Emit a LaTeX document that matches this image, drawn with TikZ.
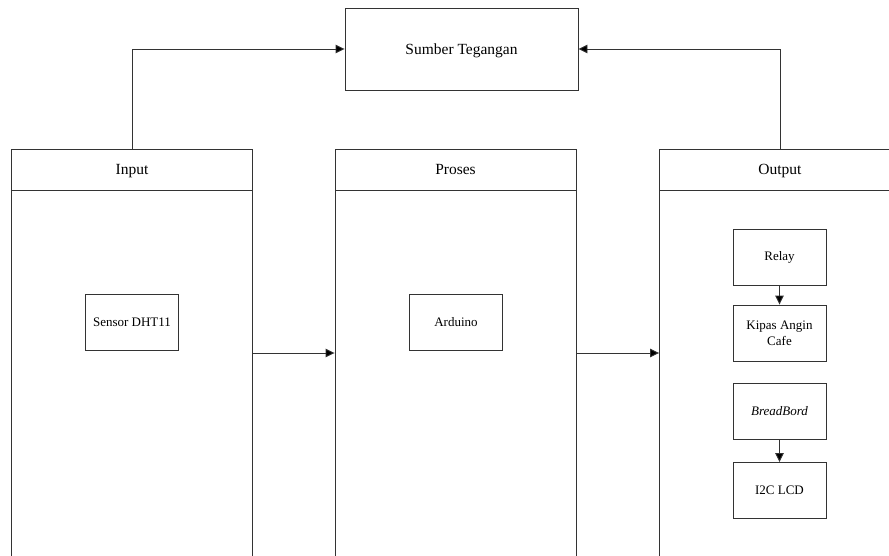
\documentclass[tikz,border=0pt]{standalone}
\usepackage{fontspec}
\setmainfont{Liberation Serif}
\usetikzlibrary{arrows.meta}
\begin{document}
\begin{tikzpicture}[x=1pt,y=-1pt,
  ln/.style={draw=black!80, line width=0.9pt},
  box/.style={ln, minimum width=93pt, minimum height=56pt, inner sep=0pt, align=center, font=\fontsize{13}{16}\selectfont},
  head/.style={ln, minimum width=241pt, minimum height=41pt, inner sep=0pt, text depth=0pt, font=\fontsize{15.5}{18}\selectfont},
  colbody/.style={ln, minimum width=241pt, minimum height=430pt, inner sep=0pt},
  arr/.style={ln, -{Triangle[width=8.5pt,length=9pt,fill=black]}}]
\useasboundingbox (0,0) rectangle (889,556);
\clip (0,0) rectangle (889,556);
\node[ln, minimum width=233pt, minimum height=82pt, inner sep=0pt, text depth=0pt, font=\fontsize{15.5}{18}\selectfont] (sumber) at (461.5,49) {Sumber Tegangan};
\node[head] (inH) at (132,169.5) {Input};
\node[head] (prH) at (455.5,169.5) {Proses};
\node[head] (outH) at (780,169.5) {Output};
\node[colbody] (inB) at (132,405) {};
\node[colbody] (prB) at (455.5,405) {};
\node[colbody] (outB) at (780,405) {};
\node[box] (sensor) at (132,322) {Sensor DHT11};
\node[box] (arduino) at (456,322) {Arduino};
\node[box] (relay) at (779.5,257) {Relay};
\node[box] (kipas) at (779.5,333) {Kipas Angin\\Cafe};
\node[box] (bread) at (779.5,411.5) {\textit{BreadBord}};
\node[box] (lcd) at (779.5,490.5) {I2C LCD};
\coordinate (mid) at (0,353);
\draw[arr] (inH.north) |- (sumber.west);
\draw[arr] (outH.north) |- (sumber.east);
\draw[arr] (inB.east |- mid) -- (prB.west |- mid);
\draw[arr] (prB.east |- mid) -- (outB.west |- mid);
\draw[arr] (relay) -- (kipas);
\draw[arr] (bread) -- (lcd);
\end{tikzpicture}
\end{document}
